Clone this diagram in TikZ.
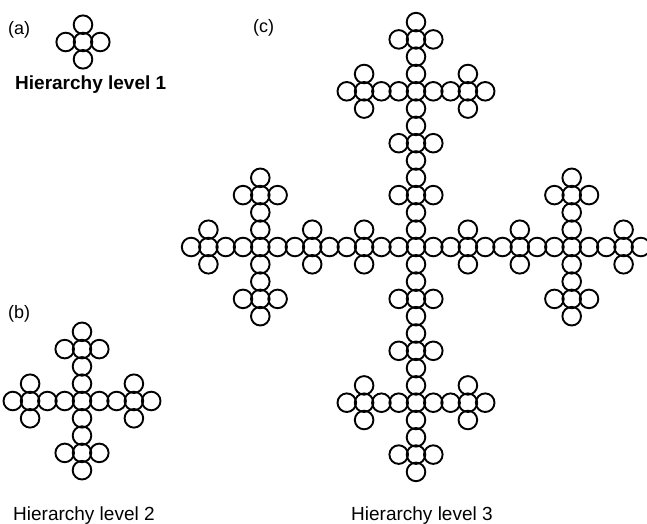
\documentclass[tikz,border=0pt]{standalone}
\usepackage{fontspec}
\setmainfont{Liberation Sans}
\begin{document}
\begin{tikzpicture}[x=1pt,y=1pt,ring/.style={draw,line width=1.9pt},
  every node/.style={inner sep=0pt,anchor=base west,font=\fontsize{19}{22}\selectfont}]
\useasboundingbox (0,0) rectangle (647,-524);
\def\armlist{0/0,1/0,-1/0,0/1,0/-1}
\def\cellgap{17.3}
\coordinate (lvA) at (83,-42);
\coordinate (lvB) at (82,-401);
\coordinate (lvC) at (416,-247);
% level 1
\foreach \ax/\ay in \armlist
  \draw[ring] (lvA) ++(\ax*\cellgap,\ay*\cellgap) circle[radius=9.3];
% level 2
\foreach \bx/\by in \armlist
  \foreach \ax/\ay in \armlist
    \draw[ring] (lvB) ++({(3*\bx+\ax)*\cellgap},{(3*\by+\ay)*\cellgap}) circle[radius=9.3];
% level 3
\foreach \cx/\cy in \armlist
  \foreach \bx/\by in \armlist
    \foreach \ax/\ay in \armlist
      \draw[ring] (lvC) ++({(9*\cx+3*\bx+\ax)*\cellgap},{(9*\cy+3*\by+\ay)*\cellgap}) circle[radius=9.3];
\node[font=\fontsize{18}{22}\selectfont] (tagA) at (8,-35) {(a)};
\node[font=\fontsize{18}{22}\selectfont] (tagB) at (8,-318) {(b)};
\node[font=\fontsize{18}{22}\selectfont] (tagC) at (253,-33) {(c)};
\node[font=\fontsize{19}{22}\selectfont\bfseries] (capA) at (15,-90) {Hierarchy level 1};
\node (capB) at (13,-520) {Hierarchy level 2};
\node (capC) at (351,-520) {Hierarchy level 3};
\end{tikzpicture}
\end{document}
